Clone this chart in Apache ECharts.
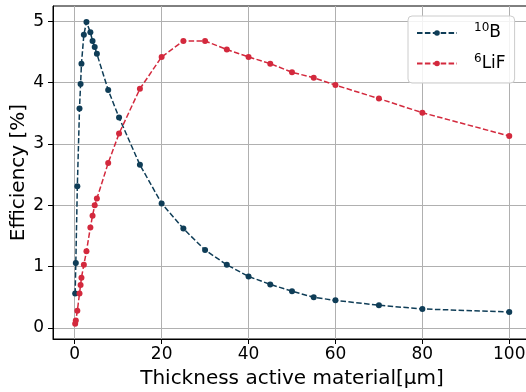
<!DOCTYPE html>
<html>
<head>
<meta charset="utf-8">
<script src="https://cdn.jsdelivr.net/npm/echarts@6/dist/echarts.min.js"></script>
<style>
  html, body { margin: 0; padding: 0; background: #ffffff; }
  #chart { width: 526px; height: 392px; }
</style>
</head>
<body>
<div id="chart"></div>
<script>
// Thickness of the converter layer (µm)
const thickness = [0.1, 0.25, 0.6, 1.1, 1.35, 1.55, 2.1, 2.7, 3.6, 4.1, 4.6, 5.1, 7.7, 10.2,
  15, 20, 25, 30, 35, 40, 45, 50, 55, 60, 70, 80, 100];
// Detection efficiency (%) for a 10B layer
const effBoron = [0.56, 1.06, 2.31, 3.58, 3.98, 4.31, 4.78, 4.99, 4.82, 4.68, 4.58, 4.47, 3.88, 3.43,
  2.66, 2.03, 1.62, 1.27, 1.03, 0.84, 0.71, 0.60, 0.50, 0.45, 0.37, 0.31, 0.26];
// Detection efficiency (%) for a 6LiF layer
const effLiF = [0.07, 0.12, 0.28, 0.56, 0.70, 0.82, 1.03, 1.25, 1.64, 1.83, 2.00, 2.11, 2.69, 3.17,
  3.90, 4.42, 4.68, 4.68, 4.54, 4.42, 4.31, 4.17, 4.08, 3.96, 3.74, 3.51, 3.13];

const seriesNames = ['10B', '6LiF'];
const xTicks = [0, 20, 40, 60, 80, 100];
const yTicks = [0, 1, 2, 3, 4, 5];

const FONT = 'DejaVu Sans';
const colorB = '#0f3d57';
const colorLi = '#d3293d';

const pairs = (xs, ys) => xs.map((x, i) => [x, ys[i]]);

const chart = echarts.init(document.getElementById('chart'), null, { renderer: 'canvas' });

const lineSeries = (name, data, color) => ({
  name: name,
  type: 'line',
  data: data,
  symbol: 'circle',
  symbolSize: 6,
  showAllSymbol: true,
  itemStyle: { color: color },
  lineStyle: { color: color, width: 1.5, type: [5.5, 2.4] },
  emphasis: { disabled: true },
  z: name === '10B' ? 3 : 4
});

chart.setOption({
  animation: false,
  backgroundColor: '#ffffff',
  textStyle: { fontFamily: FONT },
  grid: {
    left: 53, top: 6, width: 478, height: 333,
    outerBoundsMode: 'none',
    containLabel: false,
    show: true, borderColor: '#000000', borderWidth: 1, backgroundColor: 'transparent'
  },
  legend: {
    orient: 'vertical',
    left: 408, top: 16,
    padding: [6, 9, 11, 8],
    itemGap: 11,
    itemWidth: 40,
    itemHeight: 7,
    backgroundColor: 'rgba(255,255,255,0.85)',
    borderColor: '#cccccc',
    borderWidth: 1,
    borderRadius: 4,
    data: seriesNames,
    formatter: function (name) {
      const iso = name.match(/^\d+/)[0];
      return '{sup|' + iso + '}{big|' + name.slice(iso.length) + '}';
    },
    textStyle: {
      rich: {
        sup: { fontFamily: FONT, fontSize: 12, lineHeight: 8, verticalAlign: 'top', color: '#000', padding: [0, 0, 0, 12] },
        big: { fontFamily: FONT, fontSize: 17, lineHeight: 22, verticalAlign: 'middle', color: '#000' }
      }
    }
  },
  xAxis: {
    type: 'value',
    min: -5, max: 105,
    name: 'Thickness active material[μm]',
    nameLocation: 'middle',
    nameGap: 30,
    nameTextStyle: { fontFamily: FONT, fontSize: 20, color: '#000' },
    axisLine: { show: true, onZero: false, lineStyle: { color: '#000', width: 1 } },
    axisTick: { show: true, inside: false, length: 5, customValues: xTicks, lineStyle: { color: '#000' } },
    axisLabel: { customValues: xTicks, margin: 7, fontFamily: FONT, fontSize: 17, color: '#000' },
    splitLine: { show: true, lineStyle: { color: '#b0b0b0', width: 1 } }
  },
  yAxis: {
    type: 'value',
    min: -0.18, max: 5.25,
    name: 'Efficiency [%]',
    nameLocation: 'middle',
    nameGap: 24,
    nameMoveOverlap: false,
    nameTextStyle: { fontFamily: FONT, fontSize: 20, color: '#000' },
    axisLine: { show: true, onZero: false, lineStyle: { color: '#000', width: 1 } },
    axisTick: { show: true, inside: false, length: 5, customValues: yTicks, lineStyle: { color: '#000' } },
    axisLabel: { customValues: yTicks, margin: 9, fontFamily: FONT, fontSize: 17, color: '#000' },
    splitLine: { show: true, lineStyle: { color: '#b0b0b0', width: 1 } }
  },
  series: [
    lineSeries(seriesNames[0], pairs(thickness, effBoron), colorB),
    lineSeries(seriesNames[1], pairs(thickness, effLiF), colorLi)
  ]
});
</script>
</body>
</html>
